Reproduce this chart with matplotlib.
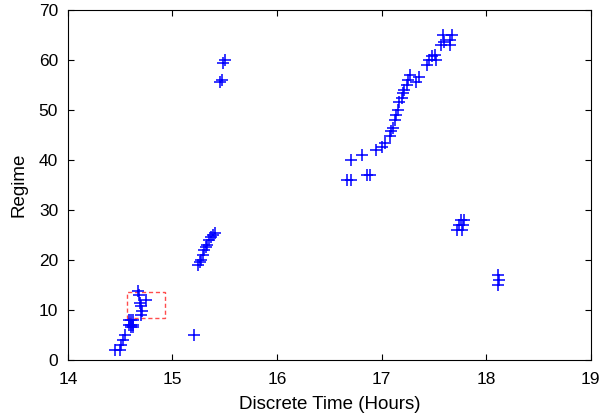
import matplotlib
matplotlib.use("Agg")
import matplotlib.pyplot as plt
from matplotlib.patches import Rectangle

# regime detections: (time in hours, regime index)
time_hours = [
    14.45, 14.50, 14.51, 14.53, 14.545, 14.58, 14.60, 14.62, 14.58, 14.60, 14.62, 14.60, 14.62,
    14.70, 14.71, 14.70, 14.69, 14.75, 14.67, 14.68,
    15.21,
    15.24, 15.26, 15.27, 15.29, 15.30, 15.32, 15.33, 15.35, 15.37, 15.39, 15.41,
    15.45, 15.47, 15.48, 15.50,
    16.67, 16.71, 16.71, 16.81, 16.86, 16.89, 16.95, 17.00, 17.03, 17.08, 17.09, 17.11,
    17.13, 17.14, 17.16, 17.17, 17.19, 17.20, 17.21, 17.24, 17.25, 17.27, 17.33, 17.36,
    17.43, 17.45, 17.48, 17.51, 17.52, 17.57, 17.60, 17.65, 17.59, 17.67, 17.65,
    17.72, 17.74, 17.76, 17.77, 17.78, 17.79,
    18.11, 18.12, 18.11,
]
regime = [
    2, 2, 3, 4, 5, 7, 7, 7, 8, 8, 8, 6.5, 6.5,
    9, 9.7, 10.7, 11.3, 12, 13.7, 13,
    5,
    19, 19.5, 20, 21, 22, 22.5, 23, 24, 24.5, 25, 25.3,
    55.5, 56, 59.3, 60,
    36, 36, 40, 41, 37, 37, 42, 42.5, 43.3, 44.7, 45.7, 46.3,
    48, 49, 50, 51.5, 52.3, 53.3, 54, 55, 56, 57, 55.5, 56.5,
    59, 60, 60.7, 61, 60, 63, 63.5, 63, 65, 65, 64,
    26, 27, 28, 26, 27, 28,
    15, 16, 17,
]

# highlighted region
box_x = [14.57, 14.93]
box_y = [8.3, 13.5]

FONT = ["Liberation Sans", "DejaVu Sans"]

fig = plt.figure(figsize=(6.06, 4.17), dpi=100)
ax = fig.add_axes([0.112, 0.137, 0.863, 0.839])

ax.plot(time_hours, regime, "+", color="#0000ff", markersize=8, markeredgewidth=1.1)
ax.add_patch(Rectangle((box_x[0], box_y[0]), box_x[1] - box_x[0], box_y[1] - box_y[0],
                       fill=False, edgecolor="#ff4d4d", linestyle=(0, (3, 2)), linewidth=1.0))

ax.set_xlim(14, 19)
ax.set_ylim(0, 70)
ax.set_xticks(range(14, 20))
ax.set_yticks(range(0, 71, 10))
ax.tick_params(direction="in", labelsize=12.5, top=True, right=True, length=4)
ax.tick_params(axis="x", pad=9)
ax.tick_params(axis="y", pad=7)
for lab in ax.get_xticklabels() + ax.get_yticklabels():
    lab.set_family(FONT)
ax.set_xlabel("Discrete Time (Hours)", fontsize=13.5, family=FONT, labelpad=6)
ax.set_ylabel("Regime", fontsize=13.5, family=FONT, labelpad=8)

fig.savefig("out.png", dpi=100)
